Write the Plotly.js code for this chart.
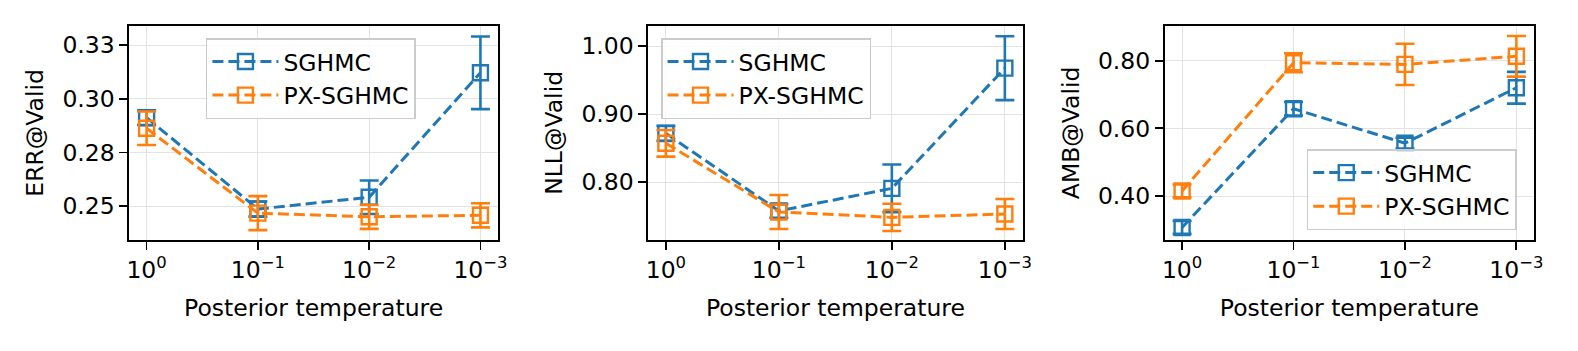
<!DOCTYPE html>
<html>
<head>
<meta charset="utf-8">
<script src="https://cdn.plot.ly/plotly-3.0.1.min.js"></script>
<style>
  html, body { margin: 0; padding: 0; background: #fff; }
  #chart { width: 1578px; height: 351px; }
</style>
</head>
<body>
<div id="chart"></div>
<script>
// posterior temperatures (log x axis, reversed)
const temps = [1, 0.1, 0.01, 0.001];
const tempLabels = ['10<sup>0</sup>', '10<sup>−1</sup>', '10<sup>−2</sup>', '10<sup>−3</sup>'];

// ERR@Valid
const errSghmc = [0.2912, 0.2487, 0.2542, 0.3121];
const errSghmcStd = [0.0034, 0.0035, 0.0078, 0.0169];
const errPx = [0.2863, 0.2468, 0.2451, 0.2458];
const errPxStd = [0.0078, 0.0079, 0.0056, 0.0056];
const errTicks = [0.25, 0.275, 0.30, 0.325];
const errTickText = ['0.25', '0.28', '0.30', '0.33'];

// NLL@Valid
const nllSghmc = [0.8716, 0.7575, 0.7907, 0.9675];
const nllSghmcStd = [0.011, 0.010, 0.035, 0.047];
const nllPx = [0.857, 0.756, 0.748, 0.753];
const nllPxStd = [0.0196, 0.025, 0.020, 0.022];
const nllTicks = [0.80, 0.90, 1.00];
const nllTickText = ['0.80', '0.90', '1.00'];

// AMB@Valid
const ambSghmc = [0.307, 0.658, 0.556, 0.720];
const ambSghmcStd = [0.019, 0.020, 0.016, 0.047];
const ambPx = [0.415, 0.794, 0.789, 0.813];
const ambPxStd = [0.019, 0.028, 0.061, 0.060];
const ambTicks = [0.40, 0.60, 0.80];
const ambTickText = ['0.40', '0.60', '0.80'];

const BLUE = '#1f77b4', ORANGE = '#ff7f0e';
const FONT = 'DejaVu Sans, sans-serif';
const FS = 23.5;

function trace(name, y, err, color, idx){
  const sfx = idx === 1 ? '' : String(idx);
  return {
    type: 'scatter', mode: 'lines+markers', name: name,
    x: temps, y: y,
    xaxis: 'x' + sfx, yaxis: 'y' + sfx,
    legend: 'legend' + sfx,
    line: {color: color, width: 3, dash: '11px,5px'},
    marker: {symbol: 'square-open', size: 15, color: color, line: {width: 2.4, color: color}},
    error_y: {type: 'data', array: err, visible: true, color: color, thickness: 2.6, width: 9.5}
  };
}

const data = [
  trace('SGHMC', errSghmc, errSghmcStd, BLUE, 1),
  trace('PX-SGHMC', errPx, errPxStd, ORANGE, 1),
  trace('SGHMC', nllSghmc, nllSghmcStd, BLUE, 2),
  trace('PX-SGHMC', nllPx, nllPxStd, ORANGE, 2),
  trace('SGHMC', ambSghmc, ambSghmcStd, BLUE, 3),
  trace('PX-SGHMC', ambPx, ambPxStd, ORANGE, 3)
];

function xaxis(domain, anchor){
  return {
    domain: domain, anchor: anchor, type: 'log', range: [0.156, -3.158],
    tickvals: temps, ticktext: tempLabels,
    showline: true, mirror: true, linecolor: '#000', linewidth: 1.8,
    ticks: 'outside', ticklen: 8, tickwidth: 1.8, tickcolor: '#000',
    showgrid: true, gridcolor: '#e3e3e3', gridwidth: 1, zeroline: false,
    tickfont: {family: FONT, size: FS, color: '#000'},
    title: {text: 'Posterior temperature', font: {family: FONT, size: FS, color: '#000'}, standoff: 16}
  };
}
function yaxis(range, vals, text, title, anchor){
  return {
    domain: [0.3162, 0.9268], anchor: anchor, range: range,
    tickvals: vals, ticktext: text,
    showline: true, mirror: true, linecolor: '#000', linewidth: 1.8,
    ticks: 'outside', ticklen: 8, tickwidth: 1.8, tickcolor: '#000',
    showgrid: true, gridcolor: '#e3e3e3', gridwidth: 1, zeroline: false,
    tickfont: {family: FONT, size: FS, color: '#000'},
    title: {text: title, font: {family: FONT, size: FS, color: '#000'}, standoff: 12}
  };
}
function legend(x, y){
  return {
    x: x, y: y, xanchor: 'left', yanchor: 'top',
    bgcolor: 'rgba(255,255,255,0.8)', bordercolor: '#cccccc', borderwidth: 1.5,
    font: {family: FONT, size: FS, color: '#000'}, itemwidth: 66
  };
}

const layout = {
  width: 1578, height: 351,
  margin: {l: 0, r: 0, t: 0, b: 0},
  paper_bgcolor: '#fff', plot_bgcolor: '#fff',
  showlegend: true,
  xaxis: xaxis([0.0819, 0.3156], 'y'),
  xaxis2: xaxis([0.4108, 0.6481], 'y2'),
  xaxis3: xaxis([0.7381, 0.9721], 'y3'),
  yaxis: yaxis([0.2343, 0.334], errTicks, errTickText, 'ERR@Valid', 'x'),
  yaxis2: yaxis([0.7147, 1.030], nllTicks, nllTickText, 'NLL@Valid', 'x2'),
  yaxis3: yaxis([0.27, 0.9034], ambTicks, ambTickText, 'AMB@Valid', 'x3'),
  legend: legend(0.1305, 0.8909),
  legend2: legend(0.4189, 0.8909),
  legend3: legend(0.8281, 0.5746)
};

Plotly.newPlot('chart', data, layout, {staticPlot: true, displayModeBar: false});
</script>
</body>
</html>
